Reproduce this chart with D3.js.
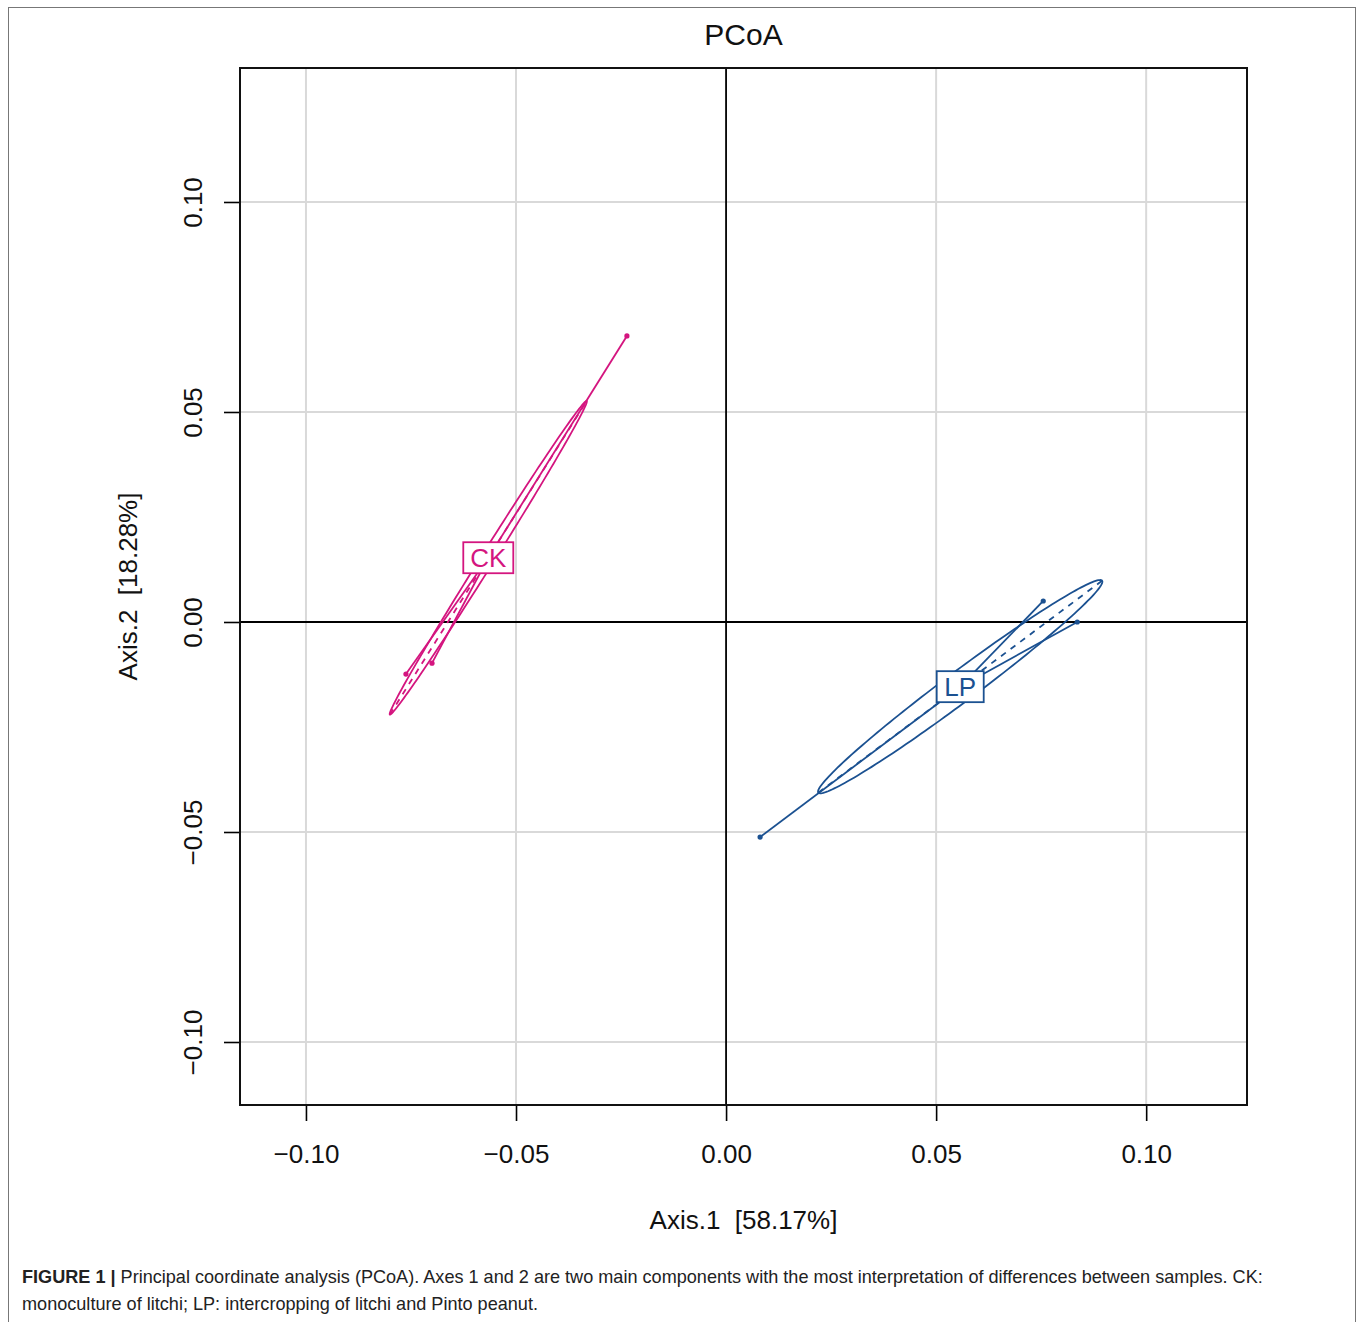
<!DOCTYPE html>
<html>
<head>
<meta charset="utf-8">
<script src="https://cdn.jsdelivr.net/npm/d3@7"></script>
<style>
  body { margin: 0; background: #fff; }
  svg { display: block; font-family: "Liberation Sans", Arial, sans-serif; }
</style>
</head>
<body>
<div id="chart"></div>
<script>
// PCoA scores
const groups = ['CK', 'LP'];
const groupColors = ['#d4157f', '#1b5191'];
const ckAxis1 = [-0.0236, -0.0762, -0.0700];
const ckAxis2 = [0.0681, -0.0124, -0.0098];
const lpAxis1 = [0.0081, 0.0755, 0.0836];
const lpAxis2 = [-0.0512, 0.0050, 0.0000];
const tickValues = [-0.10, -0.05, 0.00, 0.05, 0.10];

const W = 1360, H = 1322;

const svg = d3.select('#chart').append('svg')
    .attr('width', W)
    .attr('height', H);

// outer figure frame
svg.append('rect')
    .attr('x', 8.5).attr('y', 7.5)
    .attr('width', 1347).attr('height', 1330)
    .attr('fill', 'none')
    .attr('stroke', '#777')
    .attr('stroke-width', 1);

const x = d3.scaleLinear().domain([-0.1157, 0.1240]).range([240, 1247]);
const y = d3.scaleLinear().domain([-0.1150, 0.1319]).range([1105, 68]);

const x0 = x.range()[0], x1 = x.range()[1];
const y0 = y.range()[1], y1 = y.range()[0];

// grid
svg.append('g')
    .selectAll('line')
    .data(tickValues.filter(d => d !== 0))
    .join('line')
    .attr('x1', d => x(d)).attr('x2', d => x(d))
    .attr('y1', y0).attr('y2', y1)
    .attr('stroke', '#d9d9d9').attr('stroke-width', 2);

svg.append('g')
    .selectAll('line')
    .data(tickValues.filter(d => d !== 0))
    .join('line')
    .attr('y1', d => y(d)).attr('y2', d => y(d))
    .attr('x1', x0).attr('x2', x1)
    .attr('stroke', '#d9d9d9').attr('stroke-width', 2);

// zero lines
svg.append('line')
    .attr('x1', x(0)).attr('x2', x(0)).attr('y1', y0).attr('y2', y1)
    .attr('stroke', '#000').attr('stroke-width', 1.8);
svg.append('line')
    .attr('x1', x0).attr('x2', x1).attr('y1', y(0)).attr('y2', y(0))
    .attr('stroke', '#000').attr('stroke-width', 1.8);

// axes
const fmt = d => d3.format('.2f')(d).replace('-', '\u2212');

const xAxis = svg.append('g')
    .attr('transform', `translate(0,${y1})`)
    .call(d3.axisBottom(x).tickValues(tickValues).tickSize(16).tickSizeOuter(0).tickFormat(fmt));
xAxis.select('.domain').remove();
xAxis.selectAll('.tick line').attr('stroke', '#000').attr('stroke-width', 1.6);
xAxis.selectAll('.tick text')
    .attr('y', 58).attr('dy', 0)
    .style('font-size', '26px').attr('fill', '#111');

const yAxis = svg.append('g')
    .attr('transform', `translate(${x0},0)`)
    .call(d3.axisLeft(y).tickValues(tickValues).tickSize(16).tickSizeOuter(0).tickFormat(fmt));
yAxis.select('.domain').remove();
yAxis.selectAll('.tick line').attr('stroke', '#000').attr('stroke-width', 1.6);
yAxis.selectAll('.tick text')
    .attr('x', 0).attr('dy', 0)
    .attr('transform', 'translate(-38,0) rotate(-90)')
    .attr('text-anchor', 'middle')
    .style('font-size', '26px').attr('fill', '#111');

// panel box
svg.append('rect')
    .attr('x', x0).attr('y', y0)
    .attr('width', x1 - x0).attr('height', y1 - y0)
    .attr('fill', 'none').attr('stroke', '#111').attr('stroke-width', 2);

// groups
const data = [
    { k: groups[0], c: groupColors[0], xs: ckAxis1, ys: ckAxis2 },
    { k: groups[1], c: groupColors[1], xs: lpAxis1, ys: lpAxis2 }
];

const plot = svg.append('g');

data.forEach(g => {
    const n = g.xs.length;
    const mx = d3.mean(g.xs), my = d3.mean(g.ys);
    let vx = 0, vy = 0, cxy = 0;
    for (let i = 0; i < n; i++) {
        vx += (g.xs[i] - mx) ** 2 / n;
        vy += (g.ys[i] - my) ** 2 / n;
        cxy += (g.xs[i] - mx) * (g.ys[i] - my) / n;
    }
    // eigen decomposition of the 2x2 covariance
    const tr = vx + vy, det = vx * vy - cxy * cxy;
    const l1 = tr / 2 + Math.sqrt(tr * tr / 4 - det);
    const l2 = Math.max(tr / 2 - Math.sqrt(tr * tr / 4 - det), 0);
    const ang = Math.atan2(l1 - vx, cxy);
    const a = Math.sqrt(l1), b = Math.sqrt(l2);
    const ux = Math.cos(ang), uy = Math.sin(ang);

    const pts = d3.range(0, 361, 2).map(t => {
        const r = t * Math.PI / 180;
        const px = mx + a * Math.cos(r) * ux - b * Math.sin(r) * uy;
        const py = my + a * Math.cos(r) * uy + b * Math.sin(r) * ux;
        return [x(px), y(py)];
    });

    plot.append('path')
        .attr('d', d3.line()(pts) + 'Z')
        .attr('fill', 'none')
        .attr('stroke', g.c).attr('stroke-width', 1.8);

    // ellipse axes (dashed)
    [[a * ux, a * uy], [-b * uy, b * ux]].forEach(([dx, dy]) => {
        plot.append('line')
            .attr('x1', x(mx - dx)).attr('y1', y(my - dy))
            .attr('x2', x(mx + dx)).attr('y2', y(my + dy))
            .attr('stroke', g.c).attr('stroke-width', 1.8)
            .attr('stroke-dasharray', '6,6');
    });

    // stars
    plot.append('g')
        .selectAll('line')
        .data(d3.range(n))
        .join('line')
        .attr('x1', i => x(g.xs[i])).attr('y1', i => y(g.ys[i]))
        .attr('x2', x(mx)).attr('y2', y(my))
        .attr('stroke', g.c).attr('stroke-width', 1.8);

    // points
    plot.append('g')
        .selectAll('circle')
        .data(d3.range(n))
        .join('circle')
        .attr('cx', i => x(g.xs[i])).attr('cy', i => y(g.ys[i]))
        .attr('r', 2.6)
        .attr('fill', g.c);

    // label box at the centroid
    const lab = plot.append('g').attr('transform', `translate(${x(mx)},${y(my)})`);
    const bw = g.k === 'CK' ? 50 : 47, bh = 31;
    lab.append('rect')
        .attr('x', -bw / 2).attr('y', -bh / 2)
        .attr('width', bw).attr('height', bh)
        .attr('fill', '#fff')
        .attr('stroke', g.c).attr('stroke-width', 1.8);
    lab.append('text')
        .attr('text-anchor', 'middle')
        .attr('dy', '0.36em')
        .style('font-size', '26px')
        .attr('fill', g.c)
        .text(g.k);
});

// titles
svg.append('text')
    .attr('x', (x0 + x1) / 2).attr('y', 45)
    .attr('text-anchor', 'middle')
    .style('font-size', '30px').attr('fill', '#111')
    .text('PCoA');

svg.append('text')
    .attr('x', (x0 + x1) / 2).attr('y', 1229)
    .attr('text-anchor', 'middle')
    .style('font-size', '26px').attr('fill', '#111')
    .attr('xml:space', 'preserve')
    .text('Axis.1  [58.17%]');

svg.append('text')
    .attr('transform', `translate(137,${(y0 + y1) / 2}) rotate(-90)`)
    .attr('text-anchor', 'middle')
    .style('font-size', '26px').attr('fill', '#111')
    .attr('xml:space', 'preserve')
    .text('Axis.2  [18.28%]');

// caption
const cap = svg.append('text')
    .attr('x', 22).attr('y', 1283)
    .style('font-size', '18.1px').attr('fill', '#222');
cap.append('tspan').style('font-weight', 'bold').text('FIGURE 1 | ');
cap.append('tspan').text('Principal coordinate analysis (PCoA). Axes 1 and 2 are two main components with the most interpretation of differences between samples. CK:');
svg.append('text')
    .attr('x', 22).attr('y', 1310)
    .style('font-size', '18.1px').attr('fill', '#222')
    .text('monoculture of litchi; LP: intercropping of litchi and Pinto peanut.');
</script>
</body>
</html>
